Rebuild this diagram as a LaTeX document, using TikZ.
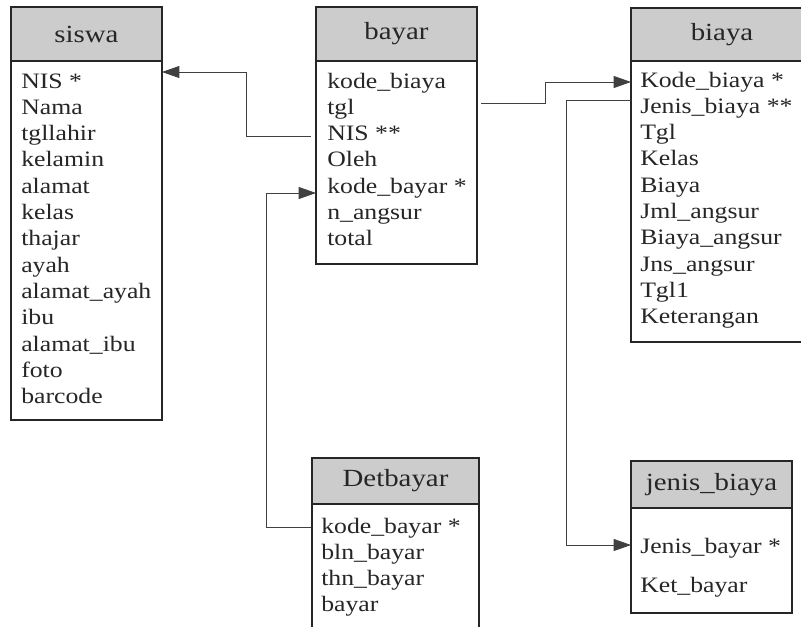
\documentclass[tikz,border=0pt]{standalone}
\usepackage{fontspec}
\setmainfont[FakeStretch=1.17]{Liberation Serif}
\usetikzlibrary{arrows.meta,calc}
\newlength\px
\setlength\px{0.75pt}

\tikzset{
  tablehead/.style={draw=black!85, line width=1pt, fill=black!20, anchor=north west,
    inner sep=0pt, outer sep=0pt, text=black!85, font=\fontsize{18.5}{20}\selectfont},
  tablebody/.style={draw=black!85, line width=1pt, fill=white, anchor=north west,
    inner sep=0pt, outer sep=0pt},
  fieldtext/.style={anchor=base west, inner sep=0pt, text=black!85,
    font=\fontsize{16.5}{18}\selectfont},
  link/.style={draw=black!75, line width=0.6pt, -{Triangle[length=13pt,width=9pt]}},
}

\begin{document}
\begin{tikzpicture}[x=0.75pt,y=-0.75pt]
  \useasboundingbox (0,0) rectangle (801,626);

  % siswa
  \node[tablehead, minimum width=151\px, minimum height=54\px] (siswa) at (11,7) {siswa};
  \node[tablebody, minimum width=151\px, minimum height=359\px] (siswabody) at (siswa.south west) {};
  \foreach \f [count=\i] in {NIS *, Nama, tgllahir, kelamin, alamat, kelas, thajar, ayah,
      alamat\_ayah, ibu, alamat\_ibu, foto, barcode}
    \node[fieldtext] (siswa-\i) at (21,{88+(\i-1)*26.3}) {\f};

  % bayar
  \node[tablehead, minimum width=161\px, minimum height=54\px] (bayar) at (316,7) {bayar};
  \node[tablebody, minimum width=161\px, minimum height=203\px] (bayarbody) at (bayar.south west) {};
  \foreach \f [count=\i] in {kode\_biaya, tgl, NIS **, Oleh, kode\_bayar *, n\_angsur, total}
    \node[fieldtext] (bayar-\i) at (327,{88+(\i-1)*26.3}) {\f};

  % biaya
  \node[tablehead, minimum width=182\px, minimum height=53\px] (biaya) at (631,8) {biaya};
  \node[tablebody, minimum width=182\px, minimum height=281\px] (biayabody) at (biaya.south west) {};
  \foreach \f [count=\i] in {Kode\_biaya *, Jenis\_biaya **, Tgl, Kelas, Biaya, Jml\_angsur,
      Biaya\_angsur, Jns\_angsur, Tgl1, Keterangan}
    \node[fieldtext] (biaya-\i) at (640,{87+(\i-1)*26.3}) {\f};

  % Detbayar
  \node[tablehead, minimum width=167\px, minimum height=46\px] (detbayar) at (312,458) {Detbayar};
  \node[tablebody, minimum width=167\px, minimum height=160\px] (detbayarbody) at (detbayar.south west) {};
  \foreach \f [count=\i] in {kode\_bayar *, bln\_bayar, thn\_bayar, bayar}
    \node[fieldtext] (detbayar-\i) at (321,{533+(\i-1)*26.3}) {\f};

  % jenis_biaya
  \node[tablehead, minimum width=161\px, minimum height=47\px] (jenis) at (631,461) {jenis\_biaya};
  \node[tablebody, minimum width=161\px, minimum height=105\px] (jenisbody) at (jenis.south west) {};
  \node[fieldtext] (jenis-1) at (640,553) {Jenis\_bayar *};
  \node[fieldtext] (jenis-2) at (640,592) {Ket\_bayar};

  % relations
  \draw[link] ($(bayarbody.north west)+(-5,75)$) -- ++(-65,0) |- ($(siswabody.north east)+(0,11)$);
  \draw[link] ($(detbayarbody.north west)+(-1,23)$) -- ++(-45,0) |- ($(bayarbody.north west)+(0,132)$);
  \draw[link] ($(bayarbody.north east)+(4,42)$) -- ++(64,0) |- ($(biayabody.north west)+(0,21)$);
  \draw[link] ($(biayabody.north west)+(0,39)$) -- ++(-65,0) |- ($(jenisbody.north west)+(0,37)$);
\end{tikzpicture}
\end{document}
